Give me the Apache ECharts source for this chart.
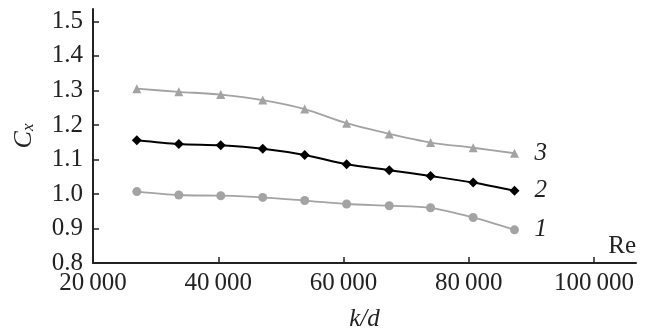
<!DOCTYPE html>
<html>
<head>
<meta charset="utf-8">
<script src="https://cdn.jsdelivr.net/npm/echarts@6/dist/echarts.min.js"></script>
<style>
  html, body { margin: 0; padding: 0; background: #fff; }
  #chart { width: 649px; height: 329px; }
</style>
</head>
<body>
<div id="chart"></div>
<script>
// k/d values (same for all three curves)
const kd = [27000, 33700, 40400, 47100, 53800, 60500, 67300, 73900, 80700, 87300];
const curve1 = [1.007, 0.997, 0.995, 0.990, 0.981, 0.971, 0.966, 0.960, 0.932, 0.896];
const curve2 = [1.156, 1.145, 1.141, 1.131, 1.113, 1.086, 1.069, 1.052, 1.033, 1.009];
const curve3 = [1.305, 1.296, 1.288, 1.272, 1.246, 1.205, 1.174, 1.149, 1.134, 1.118];
const xTicks = [20000, 40000, 60000, 80000, 100000];
const yTicks = [0.8, 0.9, 1.0, 1.1, 1.2, 1.3, 1.4, 1.5];

const FONT = 'Liberation Serif';
const GRAY = '#a3a3a3';

function pairs(ys) {
    return kd.map((x, i) => [x, ys[i]]);
}

function endLabel(text) {
    return {
        show: true,
        formatter: text,
        distance: 20,
        color: '#222',
        fontFamily: FONT,
        fontStyle: 'italic',
        fontSize: 25
    };
}

const chart = echarts.init(document.getElementById('chart'));
chart.setOption({
    animation: false,
    grid: { left: 93, right: 13, top: 9, bottom: 66, containLabel: false, outerBoundsMode: 'none' },
    xAxis: {
        type: 'value',
        min: 20000,
        max: 106700,
        name: 'k/d',
        nameLocation: 'middle',
        nameGap: 44,
        nameTextStyle: { fontFamily: FONT, fontStyle: 'italic', fontSize: 25, color: '#222' },
        axisLine: { lineStyle: { color: '#222', width: 2 } },
        axisTick: { show: true, inside: true, length: 6, customValues: xTicks, lineStyle: { color: '#222', width: 1.5 } },
        axisLabel: {
            customValues: xTicks,
            margin: 8,
            color: '#222',
            fontFamily: FONT,
            fontSize: 25,
            formatter: v => {
                const s = String(v);
                return s.slice(0, s.length - 3) + '\u2009' + s.slice(-3);
            }
        },
        splitLine: { show: false }
    },
    yAxis: {
        type: 'value',
        min: 0.8,
        max: 1.536,
        name: '{c|C}{s|x}',
        nameLocation: 'middle',
        nameRotate: 90,
        nameGap: 56,
        nameTextStyle: {
            rich: {
                c: { fontFamily: FONT, fontStyle: 'italic', fontSize: 26, color: '#222' },
                s: { fontFamily: FONT, fontStyle: 'italic', fontSize: 17, color: '#222', verticalAlign: 'bottom', padding: [8, 0, 0, 0] }
            }
        },
        axisLine: { show: true, lineStyle: { color: '#222', width: 2 } },
        axisTick: { show: true, inside: true, length: 6, customValues: yTicks, lineStyle: { color: '#222', width: 1.5 } },
        axisLabel: {
            customValues: yTicks,
            margin: 10,
            color: '#222',
            fontFamily: FONT,
            fontSize: 25,
            formatter: v => v.toFixed(1)
        },
        splitLine: { show: false }
    },
    series: [
        {
            name: '1',
            type: 'line',
            data: pairs(curve1),
            smooth: 0.3,
            symbol: 'circle',
            symbolSize: 9,
            itemStyle: { color: GRAY },
            lineStyle: { color: GRAY, width: 1.8 },
            endLabel: endLabel('1')
        },
        {
            name: '2',
            type: 'line',
            data: pairs(curve2),
            smooth: 0.3,
            symbol: 'diamond',
            symbolSize: 10,
            itemStyle: { color: '#000' },
            lineStyle: { color: '#000', width: 2 },
            endLabel: endLabel('2')
        },
        {
            name: '3',
            type: 'line',
            data: pairs(curve3),
            smooth: 0.3,
            symbol: 'triangle',
            symbolSize: 9,
            itemStyle: { color: GRAY },
            lineStyle: { color: GRAY, width: 1.8 },
            endLabel: endLabel('3')
        }
    ],
    graphic: [
        {
            type: 'text',
            right: 13,
            top: 234,
            style: { text: 'Re', fontFamily: FONT, fontSize: 25, fill: '#222' }
        }
    ]
});
</script>
</body>
</html>
